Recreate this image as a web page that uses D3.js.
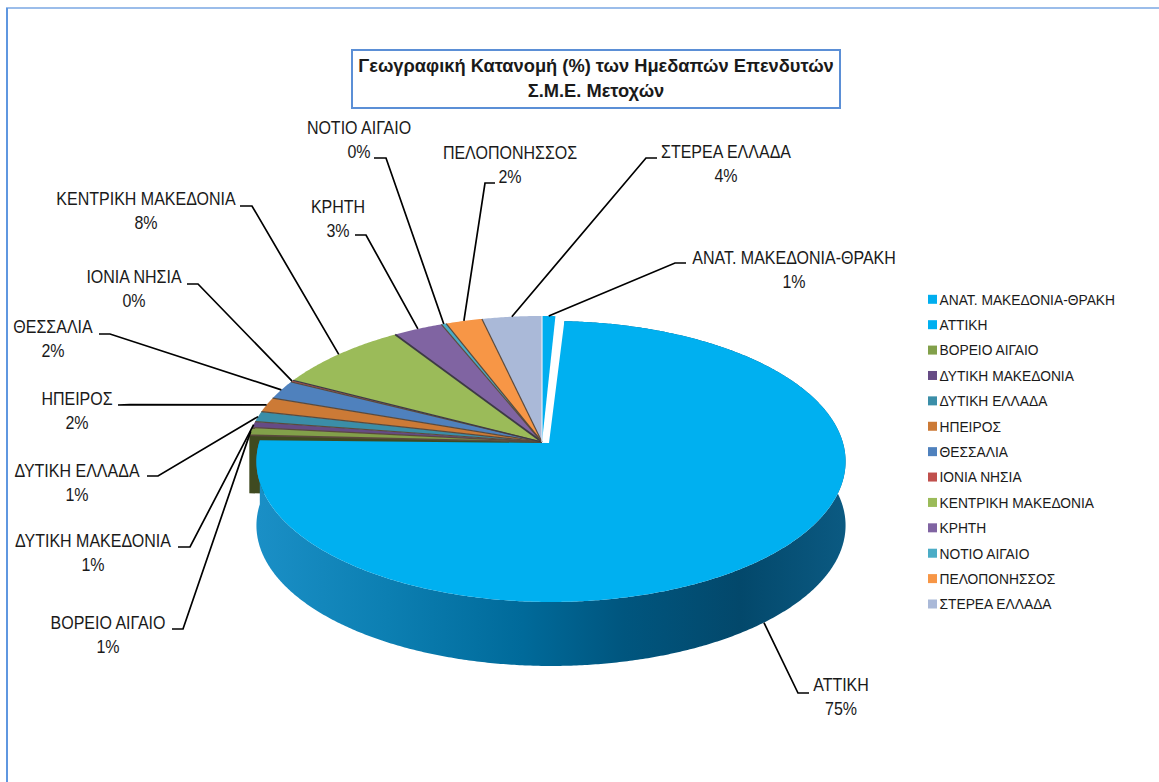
<!DOCTYPE html>
<html><head><meta charset="utf-8">
<script src="https://cdn.jsdelivr.net/npm/d3@7"></script>
<style>html,body{margin:0;padding:0;background:#fff}svg{display:block}text{font-family:"Liberation Sans",Arial,sans-serif;fill:#1a1a1a}</style>
</head><body><svg id="c" width="1159" height="782"></svg>
<script>
const categories=["ΑΝΑΤ. ΜΑΚΕΔΟΝΙΑ-ΘΡΑΚΗ","ΑΤΤΙΚΗ","ΒΟΡΕΙΟ ΑΙΓΑΙΟ","ΔΥΤΙΚΗ ΜΑΚΕΔΟΝΙΑ","ΔΥΤΙΚΗ ΕΛΛΑΔΑ","ΗΠΕΙΡΟΣ","ΘΕΣΣΑΛΙΑ","ΙΟΝΙΑ ΝΗΣΙΑ","ΚΕΝΤΡΙΚΗ ΜΑΚΕΔΟΝΙΑ","ΚΡΗΤΗ","ΝΟΤΙΟ ΑΙΓΑΙΟ","ΠΕΛΟΠΟΝΗΣΣΟΣ","ΣΤΕΡΕΑ ΕΛΛΑΔΑ"];
const values=[0.8,74.9,0.9,0.7,1.2,1.7,2.2,0.2,8.2,3.0,0.3,2.2,3.6];
const valueLabels=["1%","75%","1%","1%","1%","2%","2%","0%","8%","3%","0%","2%","4%"];
const colors=["#00aeef","#00b0f0","#82a04a","#664b85","#3b8ea8","#cc7a36","#4f81bd","#c0504d","#9bbb59","#8064a2","#4bacc6","#f79646","#aab9d8"];
const titleLines=["Γεωγραφική Κατανομή (%) των Ημεδαπών Επενδυτών","Σ.Μ.Ε. Μετοχών"];
// label layout: text centre x, first-line mid y, elbow start, elbow knee
const labelCx=[794,841,108,93,77,77,53,134,146,338,359,510,726];
const labelY=[258,685,623,541,471,399,327,277,199,207,128,153,152];
const elbowStart=[[686,263],[809,693],[172,629],[178,547],[147,476],[118,405],[99,334],[187,284],[240,206],[355,235],[374,158],[495,183],[657,158]];
const elbowKnee=[[675,263],[798,693],[183,629],[190,547],[158,476],[130,404.6],[110,334],[198,284],[252,206],[366,235],[386,158],[485,183],[646,158]];

const svg=d3.select("#c");
const W=1159,H=782;
const color=d3.scaleOrdinal(categories,colors);
const cx=542,ay=442,B=139,k=0.103,depth=64;
const restRadius=294.5,attikiRadius=293;
const explode=[9,5,attikiRadius],attikiApex=[7,1],still=[0,0,restRadius];
const proj=(th,o=still,d=0)=>{const u=Math.sin(th),v=Math.cos(th),w=1+k*v;return [cx+o[0]+o[2]*u/w, ay+o[1]-B*v/w+d];};
const arcs=d3.pie().sort(null).value(d=>d)(values);
const line=d3.line();
const sample=(a,b,o,d)=>{const n=Math.max(2,Math.ceil((b-a)*120));return d3.range(n+1).map(i=>proj(a+(b-a)*i/n,o,d));};
const off=i=>i===1?explode:still;

const defs=svg.append("defs");
const grad=defs.append("linearGradient").attr("id","side").attr("gradientUnits","userSpaceOnUse").attr("x1",258).attr("x2",846).attr("y1",0).attr("y2",0);
[[0,"#1a8fc6"],[0.22,"#0c7fb2"],[0.45,"#006a9a"],[0.62,"#00567f"],[0.82,"#03486b"],[1,"#0b5a82"]].forEach(s=>grad.append("stop").attr("offset",s[0]).attr("stop-color",s[1]));

// outer frame (top and left only)
svg.append("line").attr("x1",6).attr("x2",W).attr("y1",8).attr("y2",8).attr("stroke","#7aa7e3").attr("stroke-width",1.5);
svg.append("line").attr("x1",7).attr("x2",7).attr("y1",8).attr("y2",H).attr("stroke","#5f97e0").attr("stroke-width",2);

// cut face of the unexploded part of the pie, seen behind Attiki
const rim=proj(arcs[2].startAngle);
svg.append("path").attr("d",line([rim,[cx,ay],[cx,ay+58],[rim[0],rim[1]+58]])+"Z").attr("fill","#3f4a20");

// Attiki: wall then top
const wall=(i,d,fill)=>{const a=arcs[i],o=off(i);const upper=sample(a.startAngle,a.endAngle,o,0),bot=sample(a.startAngle,a.endAngle,o,d).reverse();
  svg.append("path").attr("d",line(upper.concat(bot))+"Z").attr("fill",fill);};
wall(1,depth,"url(#side)");
const drawTop=(i,ap=[0,0])=>{const a=arcs[i],o=off(i);
  svg.append("path").attr("d",line([[cx+ap[0],ay+ap[1]]].concat(sample(a.startAngle,a.endAngle,o,0)))+"Z").attr("fill",color(categories[i]));};
drawTop(1,attikiApex);

// remaining slices with dark radial edges
const rest=d3.range(values.length).filter(i=>i!==1);
rest.forEach(i=>drawTop(i));
rest.filter(i=>i>=2).forEach(i=>{
  const p=proj(arcs[i].startAngle);
  svg.append("line").attr("x1",cx).attr("y1",ay).attr("x2",p[0]).attr("y2",p[1]).attr("stroke",i===8||i===9?"#3d3a45":"#5a4a3c").attr("stroke-width",i===9?1.8:i===2?1.6:1.2);
});
// light separator beside the first slice
svg.append("line").attr("x1",cx).attr("y1",ay).attr("x2",proj(0)[0]).attr("y2",proj(0)[1]).attr("stroke","#e8eef8").attr("stroke-width",1.2);

// leader lines and labels (slightly condensed glyphs)
const labelText=(x,yy,s)=>svg.append("text").attr("transform",`translate(${x},${yy}) scale(0.89,1)`).attr("dy","0.36em").attr("text-anchor","middle").attr("font-size",18).text(s);
categories.forEach((c,i)=>{
  const a=arcs[i],mid=(a.startAngle+a.endAngle)/2;
  const end=proj(mid,off(i),i===1?depth:0);
  svg.append("path").attr("d",line([elbowStart[i],elbowKnee[i],end])).attr("fill","none").attr("stroke","#000").attr("stroke-width",1.7);
  labelText(labelCx[i],labelY[i],c);
  labelText(labelCx[i],labelY[i]+23.5,valueLabels[i]);
});

// title box
svg.append("rect").attr("x",352).attr("y",50).attr("width",488).attr("height",58).attr("fill","#fff").attr("stroke","#5b8fd6").attr("stroke-width",2);
titleLines.forEach((t,i)=>svg.append("text").attr("x",596).attr("y",65+i*25.5).attr("dy","0.36em").attr("text-anchor","middle").attr("font-size",18.3).attr("font-weight","bold").text(t));

// legend
const y=d3.scalePoint(categories,[299.3,604]);
const lg=svg.append("g").selectAll("g").data(categories).join("g").attr("transform",d=>`translate(928,${y(d)})`);
lg.append("rect").attr("y",-4.5).attr("width",9).attr("height",9).attr("fill",d=>color(d));
lg.append("text").attr("transform","translate(11.5,0) scale(0.92,1)").attr("dy","0.36em").attr("font-size",15).text(d=>d);
</script></body></html>
